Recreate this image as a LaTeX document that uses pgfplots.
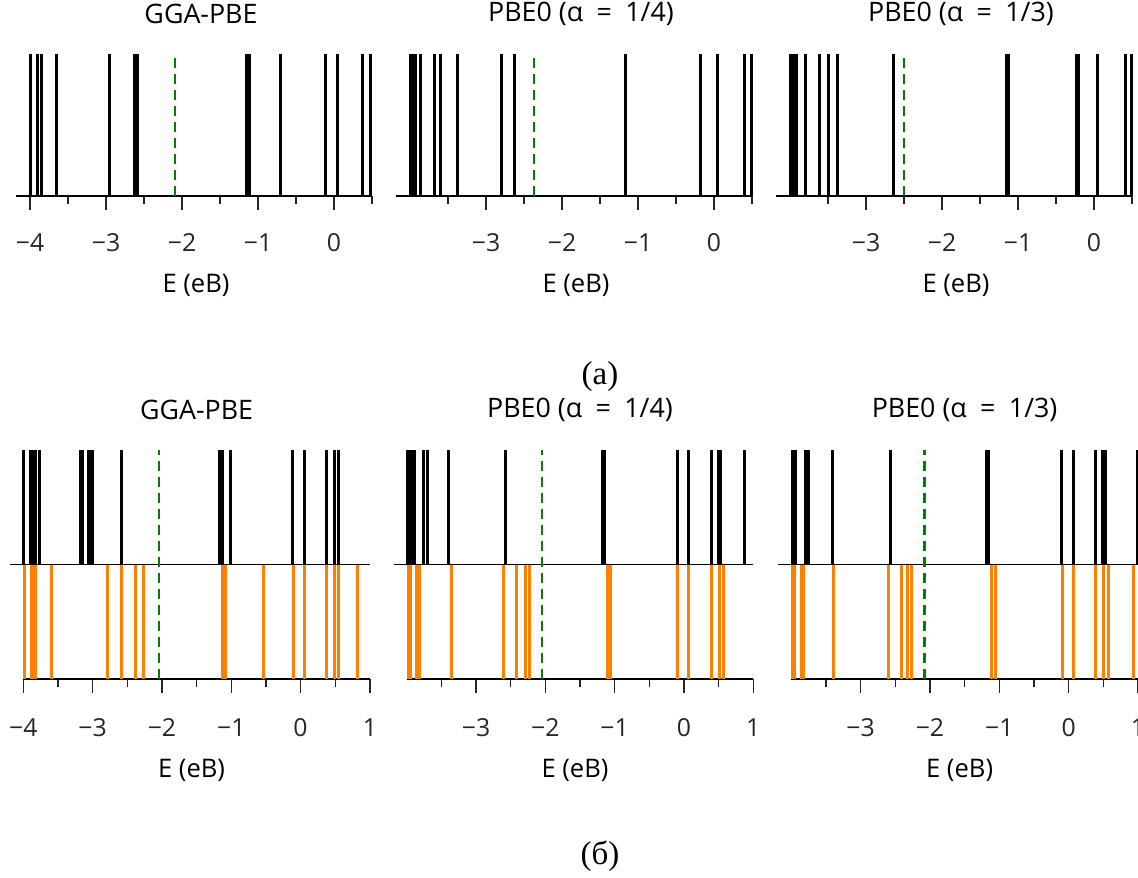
\documentclass[border=0pt]{standalone}
\usepackage{fontspec}
\setmainfont{Open Sans}
\newfontfamily\capfont{Liberation Serif}
\usepackage{pgfplots}
\pgfplotsset{compat=1.18}
\definecolor{lvorange}{RGB}{255,128,0}
\definecolor{lvgreen}{RGB}{0,128,0}
\newcommand{\eqs}{\hspace{0.5em}=\hspace{0.5em}}

\pgfplotsset{
  lv/.style={
    scale only axis, anchor=south west, clip=false,
    axis x line=bottom, axis y line=none,
    x axis line style={-, line width=0.7pt, black},
    tick align=outside, major tick length=7pt, minor tick length=4pt,
    every tick/.append style={line width=0.7pt, black!85},
    ticklabel style={font=\fontsize{12.4}{14}\selectfont, text=black!85},
    title style={font=\fontsize{13.4}{15}\selectfont, at={(0.5,1)}, anchor=center, yshift=14pt},
    xlabel={E (еВ)},
  },
  toprow/.style={lv, width=171pt, height=71pt, xmin=-4, xmax=0.5, ymin=0, ymax=1,
    minor xtick={-3.5,-2.5,-1.5,-0.5,0.5},
    xticklabel style={yshift=-8.4pt},
    xlabel style={font=\fontsize{12.8}{15}\selectfont, at={(axis description cs:0.5,0)}, anchor=center, yshift=-44.5pt, xshift=-2.5pt}},
  botrow/.style={lv, width=173.3pt, height=114.5pt, xmin=-4, xmax=1, ymin=-1, ymax=1,
    minor xtick={-3.5,-2.5,-1.5,-0.5,0.5},
    xticklabel style={yshift=-9.4pt},
    xlabel style={font=\fontsize{12.8}{15}\selectfont, at={(axis description cs:0.5,0)}, anchor=center, yshift=-45.5pt, xshift=-2.5pt}},
  occ/.style={ycomb, black, line width=1.5pt},
  virt/.style={ycomb, lvorange, line width=1.5pt},
  fermi/.style={lvgreen, line width=1.2pt, dash pattern=on 5pt off 3pt},
}

\begin{document}
\begin{tikzpicture}

% ---------- (а) ----------
\begin{axis}[toprow, at={(15pt,340.5pt)}, title={GGA-PBE},
  xtick={-4,-3,-2,-1,0}, xticklabels={−4,−3,−2,−1,0}]
  \addplot[occ] coordinates {
    (-3.99,1) (-3.90,1) (-3.85,1) (-3.65,1) (-2.95,1) (-2.63,1) (-2.58,1)
    (-1.15,1) (-1.11,1) (-0.71,1) (-0.11,1) (0.05,1) (0.37,1) (0.48,1)
  };
  \draw[line width=0.7pt] (axis cs:-4.19,0) -- (axis cs:0.5,0);
  \addplot[fermi] coordinates {(-2.09,0) (-2.09,1)};
\end{axis}

\begin{axis}[toprow, at={(205pt,340.5pt)}, title={PBE0 (α\eqs 1/4)},
  xtick={-3,-2,-1,0}, xticklabels={−3,−2,−1,0}]
  \addplot[occ] coordinates {
    (-3.99,1) (-3.96,1) (-3.93,1) (-3.86,1) (-3.68,1) (-3.60,1) (-3.37,1)
    (-2.79,1) (-2.62,1) (-1.16,1) (-0.18,1) (0.05,1) (0.40,1) (0.49,1)
  };
  \draw[line width=0.7pt] (axis cs:-4.19,0) -- (axis cs:0.5,0);
  \addplot[fermi] coordinates {(-2.37,0) (-2.37,1)};
\end{axis}

\begin{axis}[toprow, at={(395pt,340.5pt)}, title={PBE0 (α\eqs 1/3)},
  xtick={-3,-2,-1,0}, xticklabels={−3,−2,−1,0}]
  \addplot[occ] coordinates {
    (-3.99,1) (-3.96,1) (-3.92,1) (-3.79,1) (-3.61,1) (-3.50,1) (-3.37,1)
    (-2.64,1) (-1.15,1) (-1.12,1) (-0.23,1) (-0.21,1) (0.04,1) (0.41,1) (0.49,1)
  };
  \draw[line width=0.7pt] (axis cs:-4.19,0) -- (axis cs:0.5,0);
  \addplot[fermi] coordinates {(-2.50,0) (-2.50,1)};
\end{axis}

% ---------- (б) ----------
\begin{axis}[botrow, at={(11.65pt,99pt)}, title={GGA-PBE},
  xtick={-4,-3,-2,-1,0,1}, xticklabels={−4,−3,−2,−1,0,1}]
  \addplot[occ] coordinates {
    (-3.99,1) (-3.90,1) (-3.87,1) (-3.83,1) (-3.76,1) (-3.18,1) (-3.14,1)
    (-3.06,1) (-3.03,1) (-3.00,1) (-2.59,1) (-1.17,1) (-1.13,1) (-1.01,1)
    (-0.11,1) (0.05,1) (0.38,1) (0.49,1) (0.54,1)
  };
  \addplot[virt] coordinates {
    (-3.98,-1) (-3.88,-1) (-3.86,-1) (-3.82,-1) (-3.59,-1) (-2.78,-1)
    (-2.59,-1) (-2.38,-1) (-2.26,-1) (-1.12,-1) (-1.08,-1) (-0.53,-1)
    (-0.10,-1) (0.05,-1) (0.38,-1) (0.49,-1) (0.55,-1) (0.82,-1)
  };
  \draw[line width=0.7pt] (axis cs:-4.19,0) -- (axis cs:1,0);
  \addplot[fermi] coordinates {(-2.04,-1) (-2.04,1)};
\end{axis}

\begin{axis}[botrow, at={(203.35pt,99pt)}, title={PBE0 (α\eqs 1/4)},
  xtick={-3,-2,-1,0,1}, xticklabels={−3,−2,−1,0,1}]
  \addplot[occ] coordinates {
    (-3.99,1) (-3.95,1) (-3.92,1) (-3.89,1) (-3.76,1) (-3.70,1) (-3.39,1)
    (-2.57,1) (-1.18,1) (-1.15,1) (-0.09,1) (0.07,1) (0.39,1) (0.50,1)
    (0.53,1) (0.88,1)
  };
  \addplot[virt] coordinates {
    (-3.98,-1) (-3.94,-1) (-3.86,-1) (-3.82,-1) (-3.36,-1) (-2.60,-1)
    (-2.42,-1) (-2.29,-1) (-2.23,-1) (-1.10,-1) (-1.06,-1) (-0.09,-1)
    (0.07,-1) (0.39,-1) (0.51,-1) (0.57,-1)
  };
  \draw[line width=0.7pt] (axis cs:-4.19,0) -- (axis cs:1,0);
  \addplot[fermi] coordinates {(-2.05,-1) (-2.05,1)};
\end{axis}

\begin{axis}[botrow, at={(395.65pt,99pt)}, title={PBE0 (α\eqs 1/3)},
  xtick={-3,-2,-1,0,1}, xticklabels={−3,−2,−1,0,1}]
  \addplot[occ] coordinates {
    (-3.99,1) (-3.94,1) (-3.80,1) (-3.75,1) (-3.40,1) (-2.57,1) (-1.19,1)
    (-1.16,1) (-0.10,1) (0.07,1) (0.39,1) (0.49,1) (0.53,1) (0.99,1)
  };
  \addplot[virt] coordinates {
    (-3.99,-1) (-3.95,-1) (-3.86,-1) (-3.83,-1) (-3.39,-1) (-2.60,-1)
    (-2.41,-1) (-2.32,-1) (-2.26,-1) (-1.11,-1) (-1.06,-1) (-0.09,-1)
    (0.07,-1) (0.39,-1) (0.50,-1) (0.57,-1) (0.93,-1)
  };
  \draw[line width=0.7pt] (axis cs:-4.19,0) -- (axis cs:1,0);
  \addplot[fermi] coordinates {(-2.08,-1) (-2.08,1)};
\end{axis}

\node[font=\capfont\fontsize{16.5}{18}\selectfont] at (300pt,250pt) {(а)};
\node[font=\capfont\fontsize{16.5}{18}\selectfont] at (300pt,10.5pt) {(б)};

\pgfresetboundingbox
\path (0pt,0pt) rectangle (569pt,438.5pt);
\end{tikzpicture}
\end{document}
